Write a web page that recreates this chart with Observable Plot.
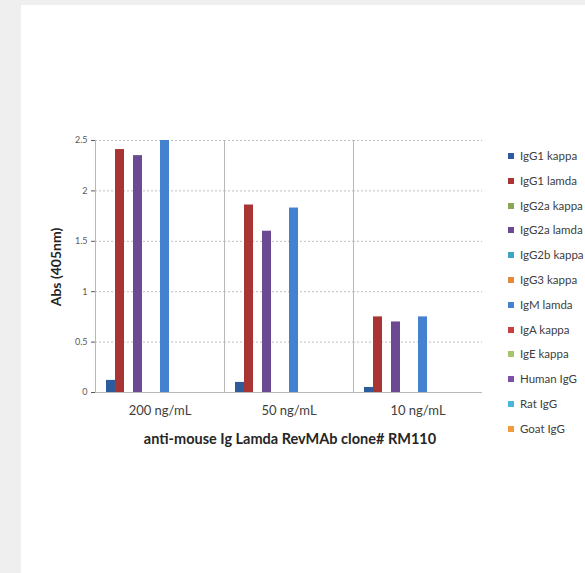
<!DOCTYPE html>
<html>
<head>
<meta charset="utf-8">
<script src="https://cdn.jsdelivr.net/npm/d3@7"></script>
<script src="https://cdn.jsdelivr.net/npm/@observablehq/plot@0.6"></script>
<style>
  html, body { margin: 0; padding: 0; width: 585px; height: 573px; overflow: hidden; background: #efefef; font-family: Lato, "Open Sans", sans-serif; }
  #panel { position: absolute; left: 21px; top: 5px; width: 564px; height: 568px; background: #fff; }
  #chart { position: absolute; left: 0; top: 0; }
  #chart svg { background: transparent !important; }
  #ylabel { position: absolute; left: 55px; top: 267px; transform: translate(-50%, -50%) rotate(-90deg); font-weight: bold; font-size: 14px; color: #262626; white-space: nowrap; }
  #xlabel { position: absolute; left: 290px; top: 438px; transform: translate(-50%, -50%); font-weight: bold; font-size: 14.5px; color: #262626; white-space: nowrap; }
  #legend { position: absolute; left: 508px; top: 149px; font-size: 11.5px; color: #404040; }
  #legend .item { height: 24.8px; line-height: 14px; display: flex; align-items: flex-start; white-space: nowrap; }
  #legend .sw { width: 6px; height: 6px; margin-top: 4px; margin-right: 6px; }
</style>
</head>
<body>
<div id="panel"></div>
<div id="chart"></div>
<div id="ylabel">Abs (405nm)</div>
<div id="xlabel">anti-mouse Ig Lamda RevMAb clone# RM110</div>
<div id="legend"></div>
<script>
const concentrations = ["200 ng/mL", "50 ng/mL", "10 ng/mL"];
const series = ["IgG1 kappa", "IgG1 lamda", "IgG2a kappa", "IgG2a lamda", "IgG2b kappa", "IgG3 kappa", "IgM lamda", "IgA kappa", "IgE kappa", "Human IgG", "Rat IgG", "Goat IgG"];
const colors = ["#2c5c9c", "#a83434", "#8aa653", "#6b4a93", "#3da5bf", "#e3893a", "#4482d0", "#c83e42", "#a6c46a", "#7d4fa6", "#48b6da", "#f29b3b"];
// values per series, in order of concentrations
const v200 = [0.12, 2.41, 0, 2.35, 0, 0, 2.5, 0, 0, 0, 0, 0];
const v50  = [0.10, 1.86, 0, 1.60, 0, 0, 1.83, 0, 0, 0, 0, 0];
const v10  = [0.05, 0.75, 0, 0.70, 0, 0, 0.75, 0, 0, 0, 0, 0];
const yTicks = [0, 0.5, 1, 1.5, 2, 2.5];
const yTickLabels = ["0", "0.5", "1", "1.5", "2", "2.5"];

const valuesByConc = [v200, v50, v10];
const data = [];
concentrations.forEach((c, i) => series.forEach((s, j) => data.push({conc: c, series: s, value: valuesByConc[i][j]})));

const chart = Plot.plot({
  width: 585,
  height: 573,
  marginLeft: 94,
  marginRight: 102,
  marginTop: 140,
  marginBottom: 181,
  style: {background: "transparent", fontFamily: "Lato, 'Open Sans', sans-serif"},
  fx: {domain: concentrations, padding: 0, axis: null},
  x: {domain: series, paddingInner: 0, paddingOuter: 0.78, axis: null},
  y: {domain: [0, 2.5], axis: null},
  color: {domain: series, range: colors},
  marks: [
    Plot.ruleY(yTicks.filter(d => d > 0), {stroke: "#bfbfbf", strokeDasharray: "2,2", strokeWidth: 1}),
    Plot.frame({anchor: "left", stroke: "#b8b8b8"}),
    Plot.ruleY([0], {stroke: "#b8b8b8"}),
    Plot.barY(data, {fx: "conc", x: "series", y: "value", fill: "series"}),
    Plot.axisY(yTicks, {anchor: "left", tickSize: 4, tickPadding: 4, fontSize: 9, color: "#595959", label: null, tickFormat: (d, i) => yTickLabels[i]}),
    Plot.axisFx({anchor: "bottom", tickSize: 0, tickPadding: 13, fontSize: 13, color: "#404040", label: null})
  ]
});
document.getElementById("chart").appendChild(chart);

const legend = document.getElementById("legend");
series.forEach((s, j) => {
  const item = document.createElement("div");
  item.className = "item";
  const sw = document.createElement("div");
  sw.className = "sw";
  sw.style.background = colors[j];
  const t = document.createElement("span");
  t.textContent = s;
  item.appendChild(sw);
  item.appendChild(t);
  legend.appendChild(item);
});
</script>
</body>
</html>
